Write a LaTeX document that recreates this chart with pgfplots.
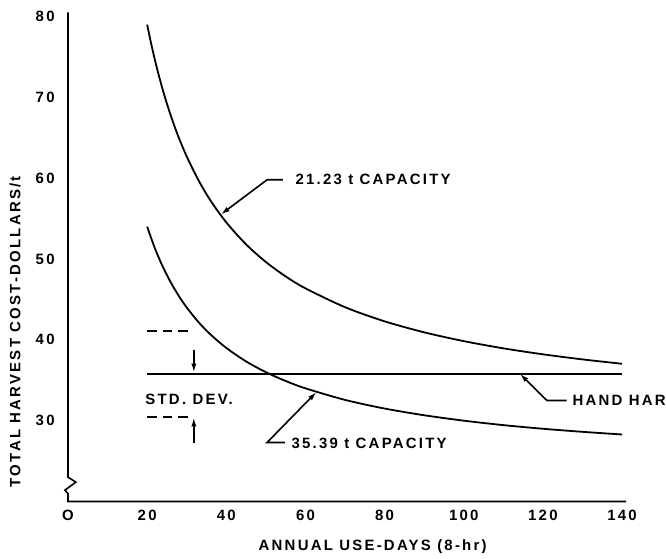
\documentclass[border=0pt]{standalone}
\usepackage{fontspec}
\setmainfont{Liberation Sans}[LetterSpace=15]
\usepackage{pgfplots}
\pgfplotsset{compat=1.18}
\usetikzlibrary{arrows.meta}
\newcommand\lf{\bfseries\fontsize{7.5}{9}\selectfont}
\begin{document}
\begin{tikzpicture}
\begin{axis}[
  at={(0,0)}, anchor=south west,
  scale only axis, width=279bp, height=242.5bp,
  xmin=0, xmax=141, ymin=20, ymax=80,
  axis x line=bottom, axis y line=left, axis line style={draw=none,-},
  major tick length=0, tick style={draw=none},
  xtick={0,20,40,60,80,100,120,140},
  xticklabels={O,20,40,60,80,100,120,\raisebox{2bp}{140}},
  ytick={30,40,50,60,70,80},
  yticklabels={30,40,50,60,70,80},
  tick label style={font=\lf},
  xticklabel style={anchor=north, inner sep=0pt, yshift=-4bp},
  yticklabel style={anchor=east, inner sep=0pt, xshift=-6.5bp},
  xlabel={ANNUAL USE-DAYS (8-hr)},
  ylabel={TOTAL HARVEST COST-DOLLARS/t},
  label style={font=\lf},
  xlabel style={at={(axis description cs:0.546,-0.0938)}, anchor=center, inner sep=0pt},
  ylabel style={at={(axis description cs:-0.095,0.35)}, anchor=center, inner sep=0pt},
  clip=false,
]
% 21.23 t capacity
\addplot[black, line width=0.9bp, smooth] coordinates {
(20,79.0) (21,76.67) (22,74.55) (23,72.62) (24,70.84) (25,69.21) (26,67.70) (27,66.31) (28,65.01)
(30,62.68) (33,59.72) (36,57.24) (40,54.53) (45,51.81) (50,49.63) (55,47.85) (60,46.37)
(70,44.04) (80,42.29) (90,40.93) (100,39.84) (110,38.95) (120,38.21) (130,37.58) (140,37.04)};
% 35.39 t capacity
\addplot[black, line width=0.9bp, smooth] coordinates {
(20,54.0) (22,51.27) (24,49.0) (26,47.08) (28,45.43) (30,44.0) (33,42.18) (36,40.67)
(40,39.0) (45,37.33) (50,36.0) (55,34.91) (60,34.0) (70,32.57) (80,31.5) (90,30.67)
(100,30.0) (110,29.45) (120,29.0) (130,28.62) (140,28.29)};
% hand harvest
\addplot[black, line width=0.9bp] coordinates {(20,35.8) (140,35.8)};
% std dev dashes
\addplot[black, line width=0.9bp, dash pattern=on 4.8bp off 3bp] coordinates {(20,41.1) (30.3,41.1)};
\addplot[black, line width=0.9bp, dash pattern=on 4.8bp off 3bp] coordinates {(20,30.5) (30.3,30.5)};
\draw[line width=0.8bp, -{Latex[length=4.5bp,width=2.6bp]}] (axis cs:31.8,38.8) -- (axis cs:31.8,35.95);
\draw[line width=0.8bp, -{Latex[length=4.5bp,width=2.6bp]}] (axis cs:31.8,27.2) -- (axis cs:31.8,30.4);
\node[font=\lf, inner sep=0pt] at (axis cs:30.6,32.6) {STD. DEV.};
% axes
\draw[line width=0.8bp] (axis cs:0,80.5) -- (axis cs:0,23.0) -- (axis cs:2.0,22.4) -- (axis cs:-0.8,21.4) -- (axis cs:0,21.0) -- (axis cs:0,20) -- (axis cs:141,20);
% leaders
\draw[line width=0.8bp, -{Latex[length=4.5bp,width=2.6bp]}] (axis cs:54.3,59.8) -- (axis cs:50.3,59.8) -- (axis cs:38.6,55.5);
\node[font=\lf, inner sep=0pt, anchor=west] at (axis cs:57.4,59.8) {21.23 t CAPACITY};
\draw[line width=0.8bp, -{Latex[length=4.5bp,width=2.6bp]}] (axis cs:54.8,27.3) -- (axis cs:50.3,27.3) -- (axis cs:62.8,33.55);
\node[font=\lf, inner sep=0pt, anchor=west] at (axis cs:56.4,27.2) {35.39 t CAPACITY};
\draw[line width=0.8bp, -{Latex[length=4.5bp,width=2.6bp]}] (axis cs:126,32.5) -- (axis cs:121,32.5) -- (axis cs:114.2,35.8);
\node[font=\lf, inner sep=0pt, anchor=west] at (axis cs:127.4,32.5) {HAND HARVEST};
\end{axis}
\pgfresetboundingbox
\useasboundingbox (-34bp,-28.75bp) rectangle (299bp,250.75bp);
\end{tikzpicture}
\end{document}
